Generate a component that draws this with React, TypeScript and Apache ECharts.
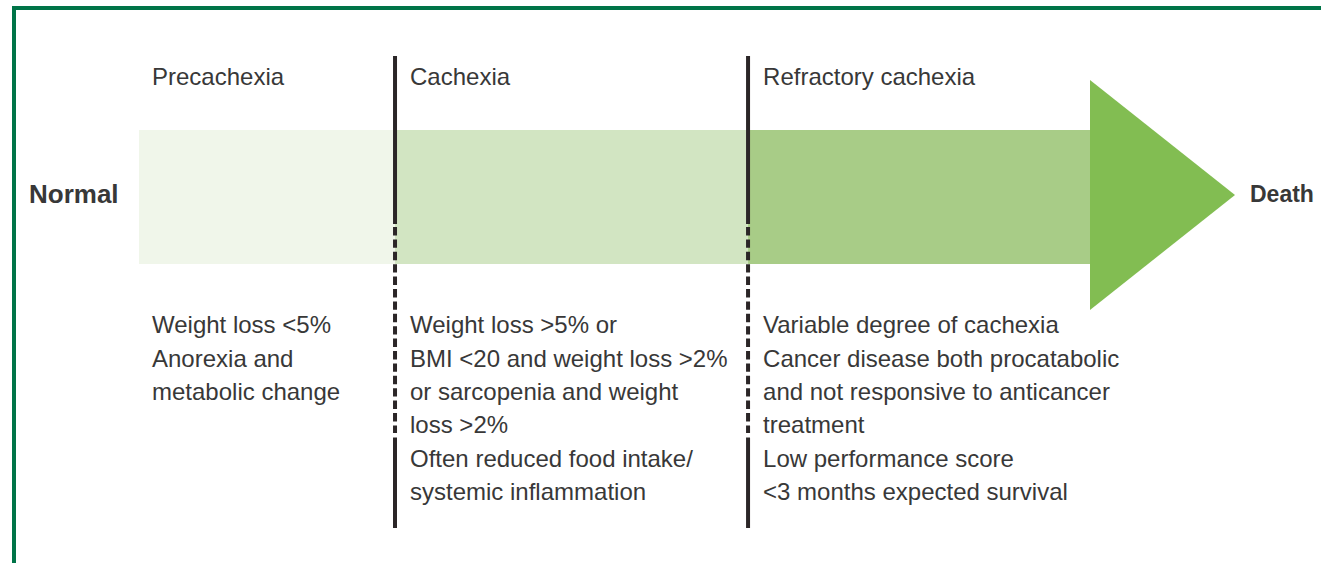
import React, { useEffect, useRef } from "react";
import * as echarts from "echarts";

// ---- data ----
const stages = ["Precachexia", "Cachexia", "Refractory cachexia"];
// progression along the continuum (0 = Normal end of band, 100 = arrow tip)
const stageBounds = [0, 23.36, 55.57, 86.77];
const arrowTip = 100;
const endpoints = ["Normal", "Death"];
const precachexiaCriteria = ["Weight loss <5%", "Anorexia and", "metabolic change"];
const cachexiaCriteria = [
  "Weight loss >5% or",
  "BMI <20 and weight loss >2%",
  "or sarcopenia and weight",
  "loss >2%",
  "Often reduced food intake/",
  "systemic inflammation",
];
const refractoryCriteria = [
  "Variable degree of cachexia",
  "Cancer disease both procatabolic",
  "and not responsive to anticancer",
  "treatment",
  "Low performance score",
  "<3 months expected survival",
];
const criteria = [precachexiaCriteria, cachexiaCriteria, refractoryCriteria];

// ---- styles ----
const bandColors = ["#F0F6EA", "#D2E5C2", "#A8CC87"];
const arrowColor = "#82BD52";
const dividerColor = "#2B2627";
const textColor = "#383838";
const borderColor = "#007448";
const FONT = '"Liberation Sans", Arial, sans-serif';

export default function App() {
  const ref = useRef<HTMLDivElement>(null);

  useEffect(() => {
    if (!ref.current) return;
    const chart = echarts.init(ref.current, null, { renderer: "svg" });

    const renderItem = (params: any, api: any) => {
      const i = api.value(2);
      const x0 = api.coord([api.value(0), 0])[0];
      const x1 = api.coord([api.value(1), 0])[0];
      const bandTop = 130;
      const bandH = 134;
      const children: any[] = [];
      children.push({
        type: "rect",
        shape: { x: x0, y: bandTop, width: x1 - x0, height: bandH },
        style: { fill: bandColors[i] },
      });
      if (i === stages.length - 1) {
        const tipX = api.coord([arrowTip, 0])[0];
        children.push({
          type: "polygon",
          shape: { points: [[x1, 80], [tipX, 195], [x1, 310]] },
          style: { fill: arrowColor },
        });
      }
      if (i > 0) {
        const ls = { stroke: dividerColor, lineWidth: 4 };
        children.push({ type: "line", shape: { x1: x0, y1: 56, x2: x0, y2: 224 }, style: ls });
        children.push({
          type: "line",
          shape: { x1: x0, y1: 227, x2: x0, y2: 433 },
          style: { ...ls, lineDash: [8.4, 4] },
        });
        children.push({ type: "line", shape: { x1: x0, y1: 437.5, x2: x0, y2: 528 }, style: ls });
      }
      const tx = x0 + (i === 0 ? 13 : 15);
      children.push({
        type: "text",
        style: {
          text: stages[i],
          x: tx,
          y: 76,
          verticalAlign: "middle",
          align: "left",
          fontSize: 24,
          fontFamily: FONT,
          fill: textColor,
        },
      });
      children.push({
        type: "text",
        style: {
          text: criteria[i].join("\n"),
          x: tx,
          y: 308,
          verticalAlign: "top",
          align: "left",
          fontSize: 24,
          lineHeight: 33.4,
          fontFamily: FONT,
          fill: textColor,
        },
      });
      return { type: "group", children };
    };

    chart.setOption({
      animation: false,
      backgroundColor: "#ffffff",
      grid: { left: 139, right: 86, top: 0, bottom: 0 },
      xAxis: { type: "value", min: 0, max: 100, show: false },
      yAxis: { type: "value", min: 0, max: 1, show: false },
      series: [
        {
          type: "custom",
          renderItem,
          clip: false,
          data: stages.map((s, i) => [stageBounds[i], stageBounds[i + 1], i]),
        },
      ],
      graphic: [
        {
          type: "line",
          shape: { x1: 12, y1: 8, x2: 1321, y2: 8 },
          style: { stroke: borderColor, lineWidth: 4 },
        },
        {
          type: "line",
          shape: { x1: 14, y1: 6, x2: 14, y2: 563 },
          style: { stroke: borderColor, lineWidth: 4 },
        },
        {
          type: "text",
          x: 29,
          y: 194,
          style: {
            text: endpoints[0],
            fontSize: 26,
            fontWeight: "bold",
            fontFamily: FONT,
            fill: textColor,
            verticalAlign: "middle",
            align: "left",
          },
        },
        {
          type: "text",
          x: 1250,
          y: 194,
          style: {
            text: endpoints[1],
            fontSize: 23,
            fontWeight: "bold",
            fontFamily: FONT,
            fill: textColor,
            verticalAlign: "middle",
            align: "left",
          },
        },
      ],
    });

    return () => chart.dispose();
  }, []);

  return (
    <div
      ref={ref}
      style={{ position: "fixed", left: 0, top: 0, width: 1321, height: 563, background: "#fff" }}
    />
  );
}
